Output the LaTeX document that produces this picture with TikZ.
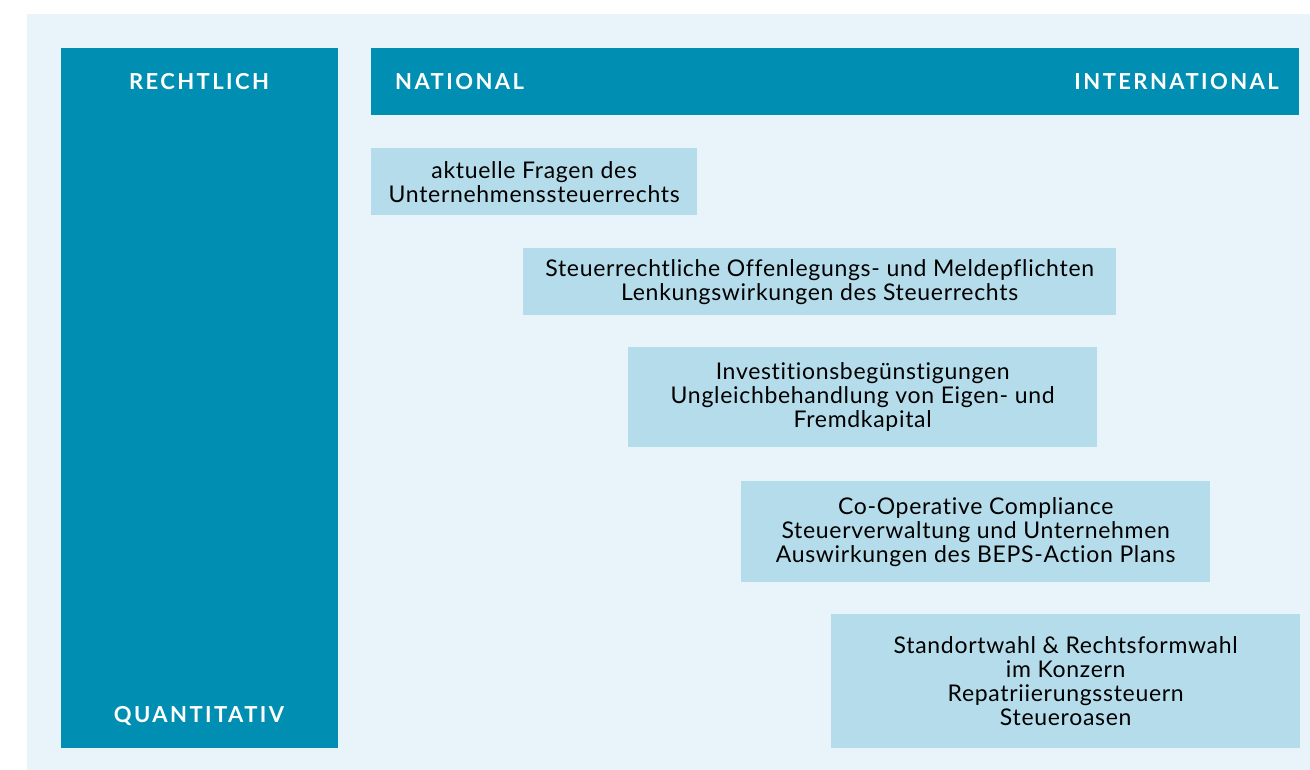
\documentclass[tikz,border=0pt]{standalone}
\usepackage{fontspec}
\setmainfont{Lato}[Ligatures=NoCommon]
\usetikzlibrary{positioning}
\definecolor{barblue}{HTML}{008FB2}
\definecolor{boxblue}{HTML}{B5DCEA}
\definecolor{panelblue}{HTML}{E8F3FA}

\begin{document}
\begin{tikzpicture}[x=1pt,y=-1pt,
  bar/.style={fill=barblue,inner sep=0pt,anchor=north west},
  topic/.style={fill=boxblue,align=center,anchor=north west,inner sep=0pt,
      font=\fontsize{23}{24}\selectfont\addfontfeatures{LetterSpace=3}},
  head/.style={text=white,inner sep=0pt,
      font=\fontsize{22}{24}\selectfont\bfseries\addfontfeatures{LetterSpace=11}}]
\useasboundingbox (0,0) rectangle (1310,770);
\fill[panelblue] (27,14) rectangle (1310,770);

% Achsen
\node[bar,minimum width=277pt,minimum height=700pt] at (61,48) (rechtlich) {};
\node[bar,minimum width=928pt,minimum height=67pt] at (371,48) (national) {};
\node[head] at (199,82) (rl) {RECHTLICH};
\node[head] at (199,716) (qt) {QUANTITATIV};
\node[head,anchor=west] at (395,82) (nat) {NATIONAL};
\node[head,anchor=east] at (1279,82) (int) {INTERNATIONAL};

% Themen
\node[topic,minimum width=326pt,minimum height=67pt] at (371,148) (t1)
    {aktuelle Fragen des\\Unternehmenssteuerrechts};
\node[topic,minimum width=593pt,minimum height=67pt] at (523,248) (t2)
    {Steuerrechtliche Offenlegungs- und Meldepflichten\\Lenkungswirkungen des Steuerrechts};
\node[topic,minimum width=469pt,minimum height=100pt] at (628,347) (t3)
    {Investitionsbegünstigungen\\Ungleichbehandlung von Eigen- und\\Fremdkapital};
\node[topic,minimum width=469pt,minimum height=101pt] at (741,481) (t4)
    {Co-Operative Compliance\\Steuerverwaltung und Unternehmen\\Auswirkungen des BEPS-Action Plans};
\node[topic,minimum width=469pt,minimum height=134pt] at (831,614) (t5)
    {Standortwahl \& Rechtsformwahl\\im Konzern\\Repatriierungssteuern\\Steueroasen};
\end{tikzpicture}
\end{document}
